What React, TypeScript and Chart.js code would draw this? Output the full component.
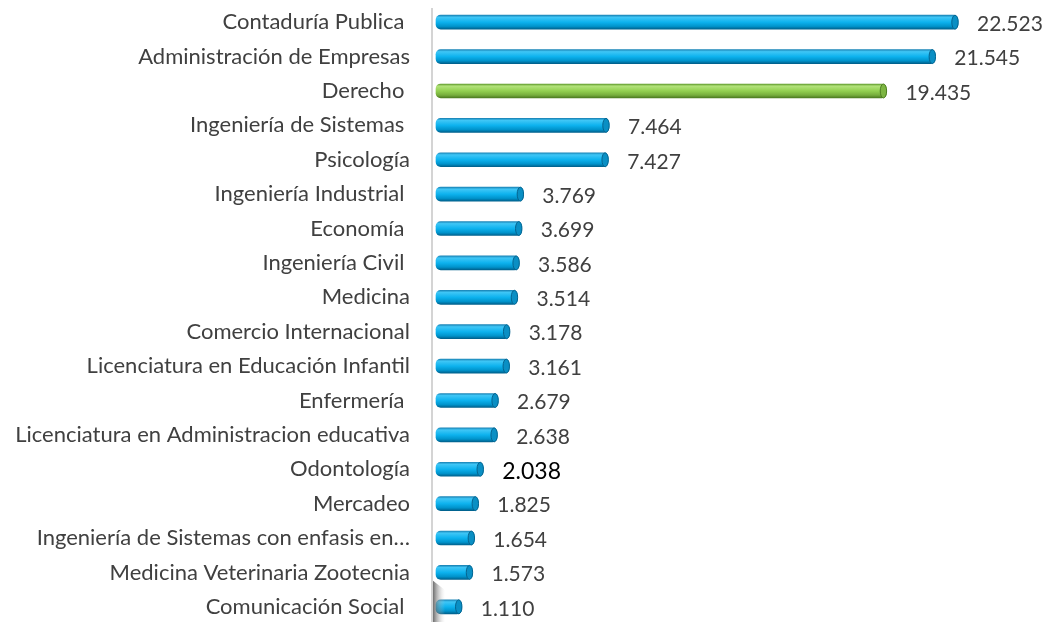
import React, { useEffect, useRef } from "react";
import { Chart, registerables } from "chart.js";

Chart.register(...registerables);

const categories: string[] = [
  "Contaduría Publica ",
  "Administración de Empresas",
  "Derecho ",
  "Ingeniería de Sistemas ",
  "Psicología",
  "Ingeniería Industrial ",
  "Economía ",
  "Ingeniería Civil ",
  "Medicina",
  "Comercio Internacional",
  "Licenciatura en Educación Infantil",
  "Enfermería ",
  "Licenciatura en Administracion educativa",
  "Odontología",
  "Mercadeo",
  "Ingeniería de Sistemas con enfasis en…",
  "Medicina Veterinaria Zootecnia",
  "Comunicación Social ",
];

const values: number[] = [
  22523, 21545, 19435, 7464, 7427, 3769, 3699, 3586, 3514, 3178, 3161, 2679,
  2638, 2038, 1825, 1654, 1573, 1110,
];

const highlightIndex = 2;
const emphasisIndex = 13;

const FONT = "Lato, 'Open Sans', sans-serif";

function fmt(v: number): string {
  const s = String(Math.round(v));
  return s.replace(/\B(?=(\d{3})+(?!\d))/g, ".");
}

const palettes = {
  blue: { stops: ["#1b86b8", "#3fc6f6", "#0db2ee", "#0093cb", "#00618d"], cap: "#0a8fc4", capEdge: "#05648f", solid: "#00b0f0" },
  green: { stops: ["#5f9a2c", "#b2e27a", "#92d050", "#76ad3c", "#4b7a1f"], cap: "#7db542", capEdge: "#4d7d22", solid: "#92d050" },
};

export default function App() {
  const ref = useRef<HTMLCanvasElement | null>(null);

  useEffect(() => {
    document.body.style.margin = "0";
    const canvas = ref.current!;
    const capPlugin = {
      id: "caps",
      afterDatasetsDraw(chart: any) {
        const ctx = chart.ctx;
        const meta = chart.getDatasetMeta(0);
        const a = chart.chartArea;
        ctx.save();
        // floor shadow
        const g = ctx.createLinearGradient(a.left, 0, a.left + 13, 0);
        g.addColorStop(0, "rgba(70,70,70,0.9)");
        g.addColorStop(1, "rgba(210,210,210,0)");
        ctx.fillStyle = g;
        ctx.beginPath();
        ctx.moveTo(a.left, 580);
        ctx.lineTo(a.left + 13, 590);
        ctx.lineTo(a.left + 13, 622);
        ctx.lineTo(a.left, 622);
        ctx.closePath();
        ctx.fill();
        // axis line
        ctx.beginPath();
        ctx.strokeStyle = "#d4d4d4";
        ctx.lineWidth = 2;
        ctx.moveTo(a.left, 8);
        ctx.lineTo(a.left, canvas.height);
        ctx.stroke();
        meta.data.forEach((el: any, i: number) => {
          const p = i === highlightIndex ? palettes.green : palettes.blue;
          const h = el.height;
          ctx.beginPath();
          ctx.ellipse(el.x - 3, el.y, 3.2, h / 2, 0, 0, Math.PI * 2);
          ctx.fillStyle = p.cap;
          ctx.fill();
          ctx.lineWidth = 1;
          ctx.strokeStyle = p.capEdge;
          ctx.stroke();
          // value label
          const emph = i === emphasisIndex;
          ctx.font = `${emph ? 23 : 21}px ${FONT}`;
          ctx.fillStyle = emph ? "#000000" : "#404040";
          ctx.textAlign = "left";
          ctx.textBaseline = "middle";
          ctx.fillText(fmt(values[i]), el.x + 19, el.y + 2);
        });
        ctx.restore();
      },
    };

    const chart = new Chart(canvas, {
      type: "bar",
      data: {
        labels: categories,
        datasets: [
          {
            data: values,
            barThickness: 14,
            borderSkipped: false,
            borderRadius: 5,
            backgroundColor: (c: any) => {
              const p = c.dataIndex === highlightIndex ? palettes.green : palettes.blue;
              const chartObj = c.chart;
              if (!chartObj.chartArea || !chartObj.scales.y) return p.solid;
              const yc = chartObj.scales.y.getPixelForValue(c.dataIndex);
              const g = chartObj.ctx.createLinearGradient(0, yc - 7, 0, yc + 7);
              g.addColorStop(0, p.stops[0]);
              g.addColorStop(0.15, p.stops[1]);
              g.addColorStop(0.5, p.stops[2]);
              g.addColorStop(0.8, p.stops[3]);
              g.addColorStop(1, p.stops[4]);
              return g;
            },
          },
        ],
      },
      options: {
        indexAxis: "y",
        animation: false,
        responsive: false,
        maintainAspectRatio: false,
        layout: { padding: { top: 5, bottom: 6, left: 0, right: 10 } },
        plugins: { legend: { display: false }, tooltip: { enabled: false } },
        scales: {
          x: {
            display: false,
            min: -173,
            max: 25846,
          },
          y: {
            afterFit: (s: any) => {
              s.width = 432;
              s.paddingTop = 0;
              s.paddingBottom = 0;
            },
            grid: { display: false, drawTicks: true, tickLength: 22 },
            border: { display: false },
            ticks: {
              padding: 0,
              color: "#404040",
              font: { family: FONT, size: 22 },
              autoSkip: false,
            },
          },
        },
      },
      plugins: [capPlugin],
    });
    return () => chart.destroy();
  }, []);

  return (
    <div style={{ position: "absolute", left: 0, top: 0, width: 1045, height: 622, overflow: "hidden", background: "#fff" }}>
      <canvas ref={ref} width={1045} height={630} style={{ display: "block" }} />
    </div>
  );
}
